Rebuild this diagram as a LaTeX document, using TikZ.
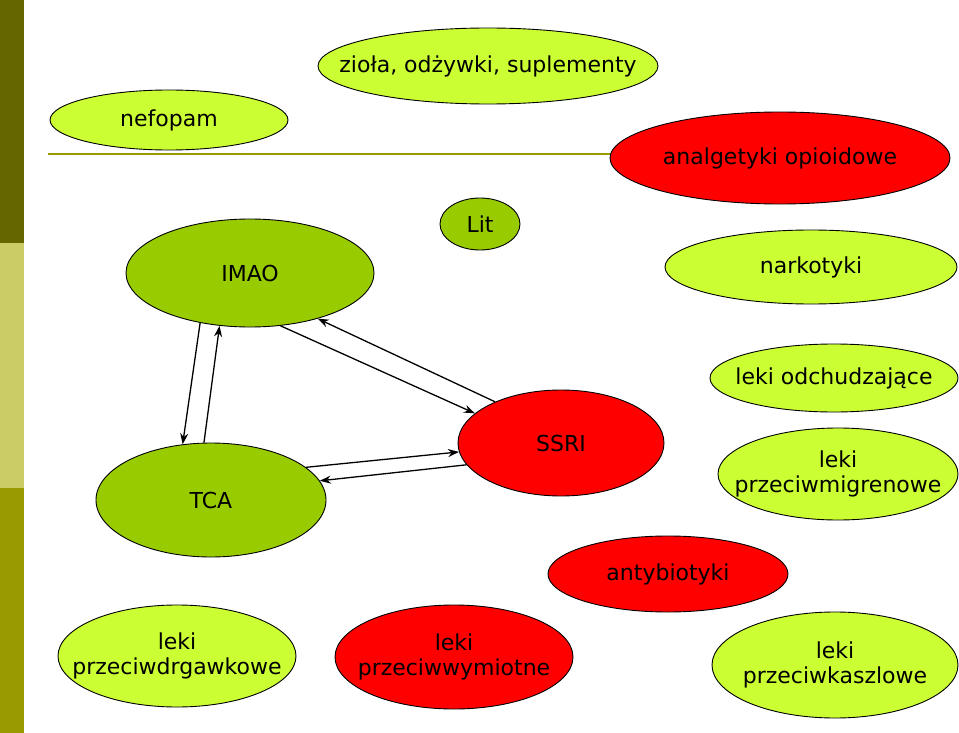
\documentclass[tikz,border=0pt]{standalone}
\usepackage{fontspec}
\setmainfont{DejaVu Sans}
\usetikzlibrary{arrows.meta,shapes.geometric}
\definecolor{lgreen}{HTML}{CCFF33}
\definecolor{dgreen}{HTML}{99CC00}
\definecolor{bred}{HTML}{FF0000}
\definecolor{barA}{HTML}{666600}
\definecolor{barB}{HTML}{CCCC66}
\definecolor{barC}{HTML}{999900}
\newcommand\zbox[1]{\makebox[0pt][c]{#1}}
\tikzset{
  ell/.style={ellipse, draw=black, line width=0.9pt, inner sep=0pt, align=center,
    font=\fontsize{22}{25}\selectfont, text=black},
  lg/.style={ell, fill=lgreen},
  dg/.style={ell, fill=dgreen},
  rd/.style={ell, fill=bred},
  arr/.style={-{Stealth[length=11pt,width=8pt]}, line width=1.3pt, black},
}
\begin{document}
\begin{tikzpicture}[x=1pt,y=-1pt]
\useasboundingbox (0,0) rectangle (959,733);
\fill[white] (0,0) rectangle (959,733);
\fill[barA] (0,0) rectangle (24,243);
\fill[barB] (0,243) rectangle (24,488);
\fill[barC] (0,488) rectangle (24,733);
\coordinate (lineL) at (48,154);
\coordinate (lineR) at (640,154);
\draw[barC, line width=2pt] (lineL) -- (lineR);

\node[lg, minimum width=340, minimum height=76] (ziola) at (488,66) {\zbox{zioła, odżywki, suplementy}};
\node[lg, minimum width=238, minimum height=60] (nefopam) at (169,120) {\zbox{nefopam}};
\node[rd, minimum width=340, minimum height=92] (opio) at (780,158) {\zbox{analgetyki opioidowe}};
\node[dg, minimum width=80, minimum height=52] (lit) at (480,224) {\zbox{Lit}};
\node[dg, minimum width=248, minimum height=108] (imao) at (250,273) {\zbox{IMAO}};
\node[lg, minimum width=292, minimum height=74] (nark) at (811,267) {\zbox{narkotyki}};
\node[lg, minimum width=248, minimum height=68] (odch) at (834,378) {\zbox{leki odchudzające}};
\node[rd, minimum width=206, minimum height=106] (ssri) at (561,443) {\zbox{SSRI}};
\node[dg, minimum width=230, minimum height=114] (tca) at (211,500) {\zbox{TCA}};
\node[lg, minimum width=240, minimum height=92] (migr) at (838,474) {\zbox{leki}\\\zbox{przeciwmigrenowe}};
\node[rd, minimum width=240, minimum height=76] (anty) at (668,574) {\zbox{antybiotyki}};
\node[lg, minimum width=238, minimum height=102] (drg) at (177,656) {\zbox{leki}\\\zbox{przeciwdrgawkowe}};
\node[rd, minimum width=238, minimum height=104] (wym) at (454,657) {\zbox{leki}\\\zbox{przeciwwymiotne}};
\node[lg, minimum width=246, minimum height=106] (kasz) at (835,665) {\zbox{leki}\\\zbox{przeciwkaszlowe}};

\draw[arr] (imao.225) -- (tca.117);
\draw[arr] (tca.97) -- (imao.240);
\draw[arr] (imao.-60) -- (ssri.161);
\draw[arr] (ssri.148) -- (imao.-34);
\draw[arr] (tca.19) -- (ssri.185);
\draw[arr] (ssri.193) -- (tca.10);
\end{tikzpicture}
\end{document}
